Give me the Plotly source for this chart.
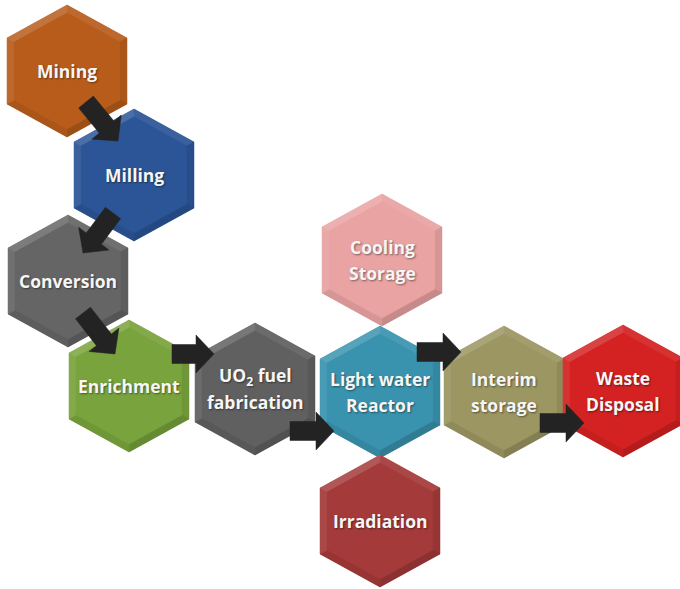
import plotly.graph_objects as go

# ---- data ----
labels = ["Mining", "Milling", "Conversion", "Enrichment", "UO<sub>2</sub> fuel\nfabrication",
          "Light water\nReactor", "Cooling\nStorage", "Irradiation", "Interim\nstorage", "Waste\nDisposal"]
cx = [67, 134, 68, 129, 255, 380, 382, 380, 504, 623]
cy = [71, 175, 281, 386, 389, 392, 260, 521, 392, 391]
colors = ["#b85c1c", "#2b5597", "#656565", "#79a33c", "#606060",
          "#3a93ae", "#e8a3a2", "#a43a3a", "#9c9662", "#d42222"]
# arrows: start and end points
ax0 = [86, 113, 83, 172, 290, 417, 540]
ay0 = [102, 213, 313, 354, 431, 352, 423]
ax1 = [118, 83, 115, 214, 334, 461, 584]
ay1 = [141, 253, 354, 354, 431, 352, 423]

W, H, S = 60, 66, 33
INSET = 0.88


def mix(hexc, f):
    r, g, b = int(hexc[1:3], 16), int(hexc[3:5], 16), int(hexc[5:7], 16)
    if f >= 0:
        r, g, b = [c + (255 - c) * f for c in (r, g, b)]
    else:
        r, g, b = [c * (1 + f) for c in (r, g, b)]
    return "rgb(%d,%d,%d)" % (r, g, b)


fig = go.Figure()

shades = [0.5, -0.5, -1.0, -0.5, 0.5, 1.0]  # edge order: top-UR, right, LR-bottom, bottom-LL, left, UL-top
for lab, x, y, col in zip(labels, cx, cy, colors):
    outer = [(x, y - H), (x + W, y - S), (x + W, y + S), (x, y + H), (x - W, y + S), (x - W, y - S)]
    inner = [(x + (px - x) * INSET, y + (py - y) * INSET) for px, py in outer]
    fig.add_trace(go.Scatter(x=[p[0] for p in outer] + [outer[0][0]], y=[p[1] for p in outer] + [outer[0][1]],
                             fill="toself", fillcolor=col, mode="lines", line=dict(width=0, color=col),
                             hoverinfo="skip", showlegend=False))
    for i in range(6):
        a, b = outer[i], outer[(i + 1) % 6]
        c, d = inner[(i + 1) % 6], inner[i]
        fc = mix(col, 0.15 * shades[i])
        fig.add_trace(go.Scatter(x=[a[0], b[0], c[0], d[0], a[0]], y=[a[1], b[1], c[1], d[1], a[1]],
                                 fill="toself", fillcolor=fc, mode="lines", line=dict(width=0.5, color=fc),
                                 hoverinfo="skip", showlegend=False))
    fig.add_trace(go.Scatter(x=[p[0] for p in inner] + [inner[0][0]], y=[p[1] for p in inner] + [inner[0][1]],
                             fill="toself", fillcolor=col, mode="lines", line=dict(width=0.5, color=col),
                             hoverinfo="skip", showlegend=False))
    lines = lab.split("\n")
    n = len(lines)
    for k, t in enumerate(lines):
        fig.add_annotation(x=x, y=y + (k - (n - 1) / 2) * 26, text="<b>%s</b>" % t, showarrow=False,
                           font=dict(family="Open Sans", size=17.5, color="#f6f6f6",
                                     shadow="1px 1px 2px rgba(0,0,0,0.45)"),
                           xanchor="center", yanchor="middle")

# arrows
SW, HW, HL = 9.5, 19, 18
for x0, y0, x1, y1 in zip(ax0, ay0, ax1, ay1):
    dx, dy = x1 - x0, y1 - y0
    L = (dx * dx + dy * dy) ** 0.5
    ux, uy = dx / L, dy / L
    nx, ny = -uy, ux
    bx, by = x1 - ux * HL, y1 - uy * HL
    pts = [(x0 + nx * SW, y0 + ny * SW), (bx + nx * SW, by + ny * SW), (bx + nx * HW, by + ny * HW),
           (x1, y1), (bx - nx * HW, by - ny * HW), (bx - nx * SW, by - ny * SW), (x0 - nx * SW, y0 - ny * SW)]
    pts.append(pts[0])
    fig.add_trace(go.Scatter(x=[p[0] for p in pts], y=[p[1] for p in pts], fill="toself",
                             fillcolor="#232323", mode="lines", line=dict(width=0.5, color="#232323"),
                             hoverinfo="skip", showlegend=False))

fig.update_layout(width=680, height=589, margin=dict(l=0, r=0, t=0, b=0),
                  paper_bgcolor="white", plot_bgcolor="white", showlegend=False)
fig.update_xaxes(range=[0, 680], visible=False, fixedrange=True)
fig.update_yaxes(range=[589, 0], visible=False, fixedrange=True)
fig.write_html("out.html")
